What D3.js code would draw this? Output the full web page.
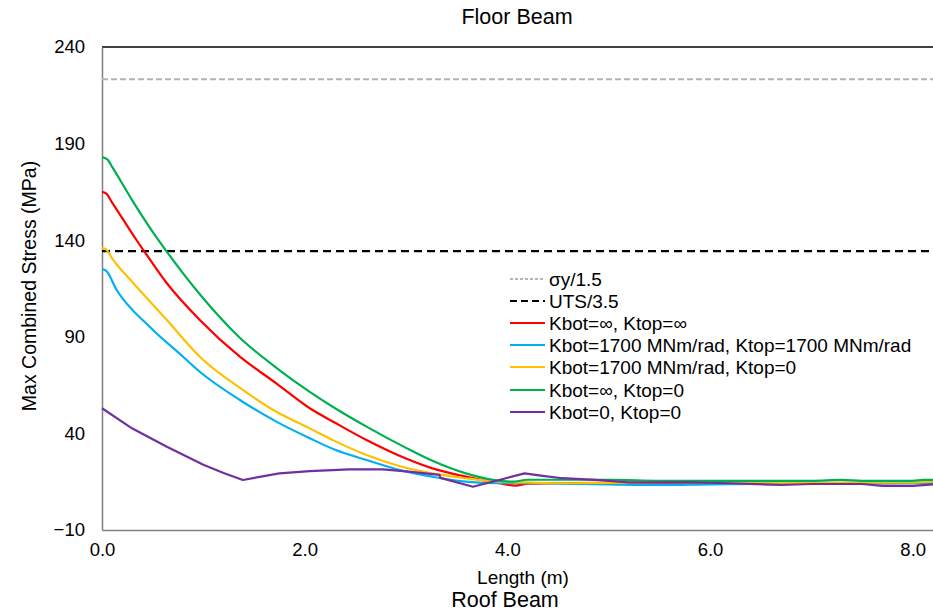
<!DOCTYPE html>
<html>
<head>
<meta charset="utf-8">
<script src="https://cdn.jsdelivr.net/npm/d3@7"></script>
<style>
  html, body { margin: 0; padding: 0; background: #fff; }
  svg { display: block; }
  text { font-family: "Liberation Sans", Arial, sans-serif; fill: #000; }
</style>
</head>
<body>
<svg id="chart" width="933" height="612"></svg>
<script>
// Max combined stress along the floor beam, for several end-stiffness cases
const xTicks = [0, 2, 4, 6, 8];
const yTicks = [-10, 40, 90, 140, 190, 240];

const yieldLimit = 223.3;   // σy/1.5
const utsLimit = 134.3;     // UTS/3.5

const lenInfInf = [0, 0.04, 0.1, 0.34, 0.42, 0.64, 0.965, 1.36, 1.72, 2.05, 2.3, 2.61, 3.0, 3.26, 3.59, 3.92, 4.08, 4.2, 4.5, 5.0, 5.5, 6.0, 6.5, 7.0, 7.5, 8.0, 8.2];
const stressInfInf = [165, 164.2, 159.5, 140.1, 134, 117.7, 98.7, 79.7, 65.9, 53, 45.5, 36.6, 27, 21.9, 17.6, 14.2, 13, 14, 14.2, 14.4, 14.2, 14.2, 14, 13.8, 14.2, 14.4, 14.6];

const len1700_1700 = [0, 0.04, 0.145, 0.47, 0.8, 0.965, 1.36, 1.72, 2.05, 2.3, 2.61, 2.94, 3.26, 3.59, 3.92, 4.2, 4.5, 5.0, 5.5, 6.0, 6.5, 7.0, 7.5, 8.0, 8.2];
const stress1700_1700 = [125, 124.2, 114.2, 95.2, 79.7, 71.9, 57.3, 46.1, 37.5, 31.5, 26.2, 21, 17.6, 15, 14.2, 14.2, 14, 13.6, 13.3, 13.6, 13.8, 14, 14.2, 14.2, 14.4];

const len1700_0 = [0, 0.04, 0.11, 0.31, 0.64, 0.965, 1.39, 1.69, 2.05, 2.3, 2.61, 2.94, 3.26, 3.59, 3.92, 4.2, 4.5, 5.0, 5.5, 6.0, 6.5, 7.0, 7.5, 8.0, 8.2];
const stress1700_0 = [136, 135.2, 129.8, 117.7, 98.7, 79.7, 62.5, 52.1, 42.6, 36, 28.8, 23, 19.3, 16.8, 15, 14.6, 14.2, 14.4, 14.6, 14.6, 14.6, 14.4, 14.6, 14.6, 15];

const lenInf0 = [0, 0.05, 0.1, 0.3, 0.55, 0.64, 0.965, 1.36, 1.75, 2.05, 2.3, 2.61, 3.0, 3.26, 3.59, 3.86, 4.05, 4.2, 4.5, 5.0, 5.5, 6.0, 6.5, 7.0, 7.3, 7.5, 8.0, 8.1, 8.2];
const stressInf0 = [183, 182, 178, 160.5, 140.5, 134, 112, 89.5, 72.8, 61.5, 53, 43.5, 32.5, 25.8, 19.3, 15.9, 15, 16, 16, 16, 15.5, 15.4, 15.4, 15.4, 15.9, 15.4, 15.4, 15.9, 15.9];

const len0_0 = [0, 0.3, 0.64, 1.0, 1.2, 1.39, 1.75, 2.05, 2.44, 2.77, 3.03, 3.33, 3.34, 3.66, 3.92, 4.17, 4.35, 4.54, 4.87, 5.2, 5.8, 6.2, 6.7, 7.0, 7.5, 7.7, 8.0, 8.2];
const stress0_0 = [53, 42.5, 33.1, 23.8, 19.5, 15.9, 19.3, 20.5, 21.4, 21.4, 20.2, 18.5, 17, 12.4, 15.9, 19.3, 18, 16.8, 15.9, 14.7, 14.7, 14.2, 13.3, 13.8, 13.8, 12.8, 12.8, 13.6];

const seriesNames = ["Kbot=∞, Ktop=∞", "Kbot=1700 MNm/rad, Ktop=1700 MNm/rad", "Kbot=1700 MNm/rad, Ktop=0", "Kbot=∞, Ktop=0", "Kbot=0, Ktop=0"];
const seriesColors = ["#ff0000", "#00b0f0", "#ffc000", "#00b050", "#7030a0"];
const seriesLengths = [lenInfInf, len1700_1700, len1700_0, lenInf0, len0_0];
const seriesStress = [stressInfInf, stress1700_1700, stress1700_0, stressInf0, stress0_0];
const seriesSmooth = [true, true, true, true, false];

const svg = d3.select("#chart");
const margin = { left: 102, top: 47, right: 0, bottom: 82 };
const W = 933, H = 612;

const x = d3.scaleLinear().domain([0, 8.2]).range([margin.left, W - margin.right]);
const y = d3.scaleLinear().domain([-10, 240]).range([H - margin.bottom, margin.top]);

// titles
svg.append("text").attr("x", 517).attr("y", 24).attr("text-anchor", "middle")
  .style("font-size", "21.5px").text("Floor Beam");
svg.append("text").attr("x", 505).attr("y", 607).attr("text-anchor", "middle")
  .style("font-size", "21.5px").text("Roof Beam");

// plot frame
svg.append("line").attr("x1", x(0)).attr("x2", W).attr("y1", y(240)).attr("y2", y(240))
  .attr("stroke", "#000").attr("stroke-width", 1.3);

// axes
const yAxis = d3.axisLeft(y).tickValues(yTicks).tickSize(0).tickPadding(17).tickFormat(d3.format("d"));
const gy = svg.append("g").attr("transform", `translate(${x(0)},0)`).call(yAxis);
gy.select(".domain").attr("stroke", "#7f7f7f").attr("stroke-width", 1.5);
gy.selectAll("text").style("font-size", "18.5px").style("font-family", "'Liberation Sans', Arial, sans-serif");

const xAxis = d3.axisBottom(x).tickValues(xTicks).tickSize(0).tickPadding(13).tickFormat(d3.format(".1f"));
const gx = svg.append("g").attr("transform", `translate(0,${y(-10)})`).call(xAxis);
gx.select(".domain").attr("stroke", "#7f7f7f").attr("stroke-width", 1.5);
gx.selectAll("text").style("font-size", "18.5px").style("font-family", "'Liberation Sans', Arial, sans-serif");

// axis titles
svg.append("text").attr("x", 523).attr("y", 584).attr("text-anchor", "middle")
  .style("font-size", "19px").text("Length (m)");
svg.append("text").attr("transform", `translate(36,${286}) rotate(-90)`).attr("text-anchor", "middle")
  .style("font-size", "19.5px").text("Max Combined Stress (MPa)");

// limit lines
svg.append("line").attr("x1", x(0)).attr("x2", W).attr("y1", y(yieldLimit)).attr("y2", y(yieldLimit))
  .attr("stroke", "#b4b4b4").attr("stroke-width", 2).attr("stroke-dasharray", "6,3");
svg.append("line").attr("x1", x(0)).attr("x2", W).attr("y1", y(utsLimit)).attr("y2", y(utsLimit))
  .attr("stroke", "#000").attr("stroke-width", 2.2).attr("stroke-dasharray", "8,5");

// stress curves
const smoothLine = d3.line().x(d => x(d[0])).y(d => y(d[1])).curve(d3.curveMonotoneX);
const straightLine = d3.line().x(d => x(d[0])).y(d => y(d[1]));
seriesNames.forEach((name, i) => {
  const pts = seriesLengths[i].map((l, j) => [l, seriesStress[i][j]]);
  svg.append("path").datum(pts).attr("d", seriesSmooth[i] ? smoothLine : straightLine)
    .attr("fill", "none").attr("stroke", seriesColors[i]).attr("stroke-width", 2.2)
    .attr("stroke-linejoin", "round");
});

// legend
const legendItems = [
  { name: "σy/1.5", color: "#b4b4b4", dash: "3,2" },
  { name: "UTS/3.5", color: "#000", dash: "7,4" },
].concat(seriesNames.map((n, i) => ({ name: n, color: seriesColors[i], dash: null })));
const legY = [279, 301, 323, 345, 367, 390, 412];
const leg = svg.append("g");
legendItems.forEach((it, i) => {
  const ly = legY[i];
  leg.append("line").attr("x1", 510).attr("x2", 545).attr("y1", ly).attr("y2", ly)
    .attr("stroke", it.color).attr("stroke-width", 2)
    .attr("stroke-dasharray", it.dash);
  leg.append("text").attr("x", 549).attr("y", ly).attr("dy", "0.35em")
    .style("font-size", "19px").text(it.name);
});
</script>
</body>
</html>
